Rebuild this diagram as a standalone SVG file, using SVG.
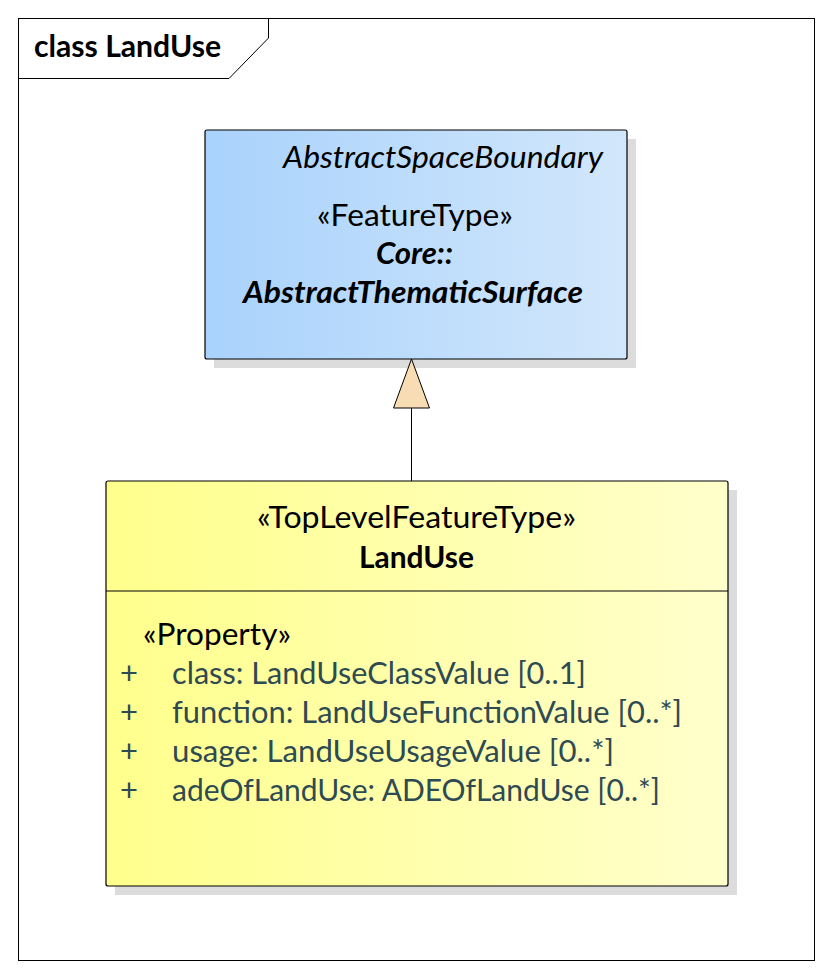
<svg xmlns="http://www.w3.org/2000/svg" width="834" height="978" viewBox="0 0 834 978">
<defs>
<linearGradient id="gBlue" x1="0" y1="0" x2="1" y2="0">
<stop offset="0" stop-color="#a9d2fc"/>
<stop offset="1" stop-color="#d2e7fb"/>
</linearGradient>
<linearGradient id="gYellow" x1="0" y1="0" x2="1" y2="0">
<stop offset="0" stop-color="#ffff8c"/>
<stop offset="1" stop-color="#ffffcc"/>
</linearGradient>
<style>
text{font-family:Lato,"Liberation Sans",sans-serif;font-size:31px;fill:#000}
.i{font-style:italic}
.b{font-weight:bold}
.a{fill:#2e4a52}
.shadow{fill:#dcdcdc}
.box{stroke:#000;stroke-width:1.2}
</style>
</defs>
<rect x="0" y="0" width="834" height="978" fill="#fff"/>
<g id="frame">
<rect x="18.5" y="18.5" width="796" height="942" fill="none" stroke="#000" stroke-width="1"/>
<path d="M18.5 78.5 H229 L268.5 38 V18.5" fill="none" stroke="#000" stroke-width="1"/>
<text x="34" y="57" class="b" textLength="187" lengthAdjust="spacingAndGlyphs">class LandUse</text>
</g>
<g id="AbstractThematicSurface">
<rect x="214" y="139" width="422" height="229" class="shadow"/>
<rect x="205" y="130" width="422" height="229" rx="2" fill="url(#gBlue)" class="box"/>
<text x="283" y="168" class="i" textLength="320" lengthAdjust="spacingAndGlyphs">AbstractSpaceBoundary</text>
<text x="317" y="226" textLength="196" lengthAdjust="spacingAndGlyphs">«FeatureType»</text>
<text x="376" y="264" class="b i" textLength="77" lengthAdjust="spacingAndGlyphs">Core::</text>
<text x="243" y="303" class="b i" textLength="340" lengthAdjust="spacingAndGlyphs">AbstractThematicSurface</text>
</g>
<g id="LandUse">
<rect x="115" y="490" width="622" height="405" class="shadow"/>
<rect x="106" y="481" width="622" height="405" rx="2" fill="url(#gYellow)" class="box"/>
<text x="257" y="528" textLength="319" lengthAdjust="spacingAndGlyphs">«TopLevelFeatureType»</text>
<text x="359" y="568" class="b" textLength="115" lengthAdjust="spacingAndGlyphs">LandUse</text>
<line x1="106" y1="591" x2="728" y2="591" stroke="#000" stroke-width="1"/>
<text x="143" y="645" textLength="148" lengthAdjust="spacingAndGlyphs">«Property»</text>
<text x="120" y="684" class="a">+</text>
<text x="172" y="684" class="a" textLength="414" lengthAdjust="spacingAndGlyphs">class: LandUseClassValue [0..1]</text>
<text x="120" y="723" class="a">+</text>
<text x="172" y="723" class="a" textLength="510" lengthAdjust="spacingAndGlyphs">function: LandUseFunctionValue [0..*]</text>
<text x="120" y="762" class="a">+</text>
<text x="172" y="762" class="a" textLength="442" lengthAdjust="spacingAndGlyphs">usage: LandUseUsageValue [0..*]</text>
<text x="120" y="801" class="a">+</text>
<text x="172" y="801" class="a" textLength="488" lengthAdjust="spacingAndGlyphs">adeOfLandUse: ADEOfLandUse [0..*]</text>
</g>
<g id="connectors">
<line x1="411.5" y1="408" x2="411.5" y2="481" stroke="#000" stroke-width="1"/>
<path d="M411.5 359 L393.5 408 L429.5 408 Z" fill="#f7dcb4" stroke="#000" stroke-width="1"/>
</g>
</svg>
